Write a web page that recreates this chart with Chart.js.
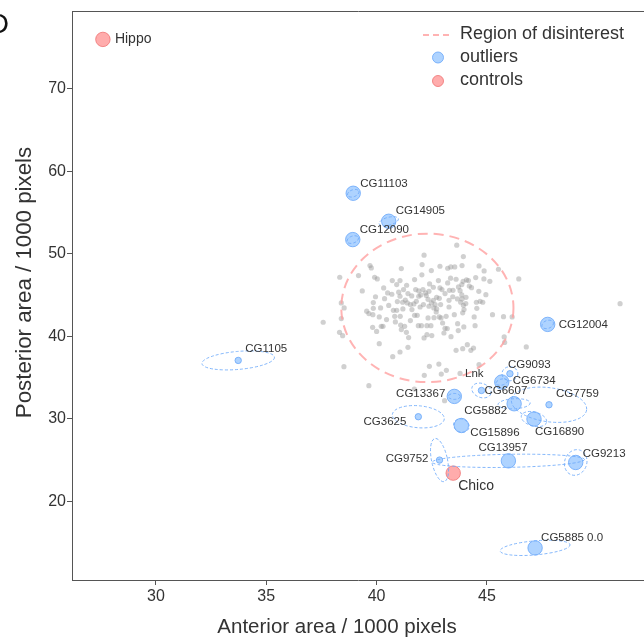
<!DOCTYPE html>
<html lang="en">
<head>
<meta charset="UTF-8">
<title>Anterior vs posterior area</title>
<script src="https://cdn.jsdelivr.net/npm/chart.js@4.4.1/dist/chart.umd.min.js"></script>
<style>
  body { margin: 0; background: #fff; overflow: hidden; }
  canvas { display: block; }
</style>
</head>
<body>
<!-- canvas is a bit wider than the window: the plot frame runs off the right edge, as in the figure -->
<canvas id="areaChart" width="653" height="637"></canvas>
<script>
// tick labels
const xTicks = [30, 35, 40, 45];
const yTicks = [20, 30, 40, 50, 60, 70];

// background genes (grey cloud)
const bgX = [43.63, 42.15, 43.93, 42.06, 42.87, 43.22, 43.36, 43.54, 43.87, 44.64,
  39.70, 39.76, 42.48, 41.12, 45.52, 38.33, 39.18, 39.91, 40.03, 40.71,
  41.06, 42.80, 43.22, 43.60, 43.92, 44.07, 44.49, 44.87, 45.13, 44.86,
  46.44, 39.35, 40.32, 40.50, 40.91, 41.22, 41.36, 41.72, 41.77, 41.91,
  42.10, 42.40, 42.57, 42.87, 42.96, 43.30, 43.46, 43.71, 43.78, 43.86,
  44.63, 40.36, 40.69, 41.06, 40.94, 41.42, 41.59, 41.91, 42.00, 42.22,
  42.33, 42.57, 42.72, 42.84, 43.10, 43.28, 43.66, 43.86, 43.87, 44.05,
  44.52, 44.69, 38.40, 38.53, 39.85, 39.85, 40.18, 40.76, 40.91, 41.19,
  41.18, 41.39, 41.53, 41.69, 41.80, 41.97, 42.12, 42.37, 42.48, 42.65,
  42.59, 42.72, 42.90, 43.28, 43.81, 43.93, 43.96, 44.04, 44.54, 44.81,
  37.58, 38.40, 39.65, 39.83, 40.12, 40.45, 40.82, 41.07, 41.53, 41.72,
  42.33, 42.60, 42.84, 43.15, 43.52, 44.42, 45.25, 45.75, 46.14, 38.32,
  38.46, 39.82, 40.21, 41.09, 41.12, 41.27, 41.35, 41.89, 42.28, 42.46,
  42.99, 43.10, 43.05, 43.37, 43.67, 43.95, 44.46, 40.12, 41.42, 41.06,
  40.73, 42.15, 42.28, 43.60, 43.90, 44.11, 44.27, 44.39, 45.78, 46.78,
  38.52, 39.65, 41.71, 42.16, 42.39, 43.16, 42.82, 42.93, 44.64, 43.08,
  45.80, 51.03, 41.84, 42.92, 40.29, 42.03, 43.20, 42.37, 44.16,
  40.55, 41.30, 42.25, 43.45, 44.30, 39.55, 40.85, 41.60, 42.70, 43.90,
  41.00, 42.05, 43.35, 44.20, 40.00, 41.45, 42.50, 43.70, 39.95, 44.95,
  43.78];
const bgY = [51.04, 49.83, 49.66, 48.70, 48.49, 48.25, 48.41, 48.41, 48.57, 48.53,
  48.57, 48.29, 47.97, 48.21, 48.13, 47.16, 47.36, 47.16, 46.96, 46.76,
  46.76, 46.76, 46.47, 46.92, 46.67, 46.84, 47.12, 47.93, 46.67, 46.96,
  46.96, 45.50, 45.87, 45.26, 46.27, 45.67, 46.19, 46.88, 45.67, 45.50,
  45.67, 46.35, 45.95, 45.87, 45.67, 45.58, 45.58, 45.99, 45.54, 46.27,
  45.46, 44.57, 45.10, 44.86, 44.21, 45.18, 44.90, 44.86, 45.02, 45.26,
  44.49, 44.37, 44.73, 44.61, 45.18, 44.37, 44.53, 45.02, 44.53, 44.73,
  44.13, 44.25, 44.05, 43.44, 44.09, 43.40, 43.44, 43.16, 43.16, 43.32,
  44.13, 44.05, 43.85, 43.93, 44.25, 43.56, 43.85, 43.65, 44.05, 43.85,
  43.44, 43.32, 43.85, 43.56, 44.13, 43.77, 43.24, 43.97, 43.40, 44.13,
  41.71, 42.15, 42.76, 42.63, 42.35, 42.03, 42.43, 42.43, 41.91, 42.55,
  42.23, 42.27, 42.35, 42.43, 42.63, 42.35, 42.63, 42.39, 42.35, 40.49,
  40.09, 41.10, 41.22, 41.38, 40.82, 41.22, 40.49, 41.30, 41.30, 41.30,
  41.62, 40.98, 40.41, 39.97, 41.54, 41.14, 41.30, 39.12, 38.67, 38.11,
  37.54, 39.81, 40.21, 38.31, 38.51, 39.00, 38.31, 38.59, 39.93, 38.72,
  36.33, 34.03, 33.62, 35.28, 36.37, 35.89, 36.65, 35.44, 36.57, 32.21,
  39.27, 43.96, 42.55, 42.23, 41.22, 41.30, 40.94, 45.46, 46.76,
  43.75, 44.40, 44.95, 44.80, 45.90, 43.05, 41.75, 43.25, 42.95, 42.85,
  45.35, 47.45, 47.05, 46.10, 40.60, 39.85, 40.10, 40.70, 44.80, 45.05,
  35.52];
// the last grey gene is Lnk
const bgNamed = { Lnk: bgX.length - 1 };

// outliers
const outlierNames = ['CG11103', 'CG14905', 'CG12090', 'CG12004', 'CG1105', 'CG9093',
  'CG6734', 'CG6607', 'CG13367', 'CG5882', 'CG7759', 'CG16890', 'CG15896',
  'CG3625', 'CG13957', 'CG9213', 'CG9752', 'CG5885 0.0'];
const outlierX = [38.94, 40.55, 38.92, 47.75, 33.73, 46.04, 45.67, 44.75, 43.52,
  46.23, 47.81, 47.13, 43.84, 41.89, 45.97, 49.02, 42.85, 47.18];
const outlierY = [57.33, 53.94, 51.72, 41.45, 37.09, 35.48, 34.47, 33.45, 32.73,
  31.84, 31.72, 29.99, 29.21, 30.27, 24.93, 24.73, 25.02, 14.39];
const outlierBig = [1, 1, 1, 1, 0, 0, 1, 0, 1, 1, 0, 1, 1, 0, 1, 1, 0, 1];
// spread of each outlier: semi axes in axis units, tilt in degrees
const spreadX = [0.27, 0.45, 0.27, 0.27, 1.65, 0.36, 0.27, 0.45, 0.27,
  0.73, 1.72, 0.59, 0.36, 1.18, 3.45, 0.50, 0.36, 1.59];
const spreadY = [0.42, 0.48, 0.42, 0.48, 1.09, 0.85, 0.36, 0.85, 0.36,
  0.61, 2.06, 0.85, 0.79, 1.33, 0.79, 1.58, 2.67, 0.85];
const spreadTilt = [-20, -15, -20, -20, -5, 0, -15, 20, 0,
  -3, 8, 15, 20, 5, -1, 20, -12, -5];

// controls
const controlNames = ['Hippo', 'Chico'];
const controlX = [27.6, 43.47];
const controlY = [75.96, 23.44];

// region of disinterest
const regionCenter = [42.3, 43.45];
const regionRadius = [3.9, 8.99];

// label placement: [dx, dy, align] in pixels from the marker
const labelOffsets = {
  'CG11103': [7, -9, 'left'], 'CG14905': [7, -10, 'left'], 'CG12090': [7, -10, 'left'],
  'CG12004': [11, 0, 'left'], 'CG1105': [7, -12, 'left'], 'CG9093': [-2, -9, 'left'],
  'CG6734': [11, -1, 'left'], 'CG6607': [3, 0, 'left'], 'CG13367': [-9, -3, 'right'],
  'CG5882': [-7, 7, 'right'], 'CG7759': [7, -11, 'left'], 'CG16890': [1, 13, 'left'],
  'CG15896': [9, 7, 'left'], 'CG3625': [-12, 5, 'right'], 'CG13957': [-30, -13, 'left'],
  'CG9213': [7, -9, 'left'], 'CG9752': [-11, -1, 'right'], 'CG5885 0.0': [6, -10, 'left'],
  'Hippo': [12, 0, 'left'], 'Chico': [5, 13, 'left'], 'Lnk': [5, 0, 'left']
};

const FONT = '"Liberation Sans", Arial, sans-serif';
const TXT = '#333';
const BLUE_FILL = 'rgba(140,192,255,0.7)';
const BLUE_EDGE = 'rgba(110,170,250,0.85)';
const RED_FILL = 'rgba(255,140,140,0.72)';
const RED_EDGE = 'rgba(240,120,120,0.85)';
const PINK = 'rgba(255,160,160,0.8)';

function ellipsePath(ctx, xs, ys, cx, cy, rx, ry, deg) {
  const px = xs.getPixelForValue(cx), py = ys.getPixelForValue(cy);
  const rxp = Math.abs(xs.getPixelForValue(cx + rx) - px);
  const ryp = Math.abs(ys.getPixelForValue(cy + ry) - py);
  ctx.beginPath();
  ctx.ellipse(px, py, rxp, ryp, deg * Math.PI / 180, 0, 2 * Math.PI);
}

const overlay = {
  id: 'overlay',
  afterDatasetsDraw(chart) {
    const { ctx, chartArea: a, scales: { x, y } } = chart;
    ctx.save();
    ctx.beginPath();
    ctx.rect(a.left, a.top, a.right - a.left, a.bottom - a.top);
    ctx.clip();
    // region of disinterest
    ellipsePath(ctx, x, y, regionCenter[0], regionCenter[1], regionRadius[0], regionRadius[1], 0);
    ctx.strokeStyle = PINK;
    ctx.lineWidth = 2;
    ctx.setLineDash([10, 6]);
    ctx.stroke();
    // outlier spreads
    ctx.strokeStyle = BLUE_EDGE;
    ctx.lineWidth = 1;
    ctx.setLineDash([3, 2]);
    for (let i = 0; i < outlierX.length; i++) {
      ellipsePath(ctx, x, y, outlierX[i], outlierY[i], spreadX[i], spreadY[i], spreadTilt[i]);
      ctx.stroke();
    }
    ctx.restore();
  },
  afterDraw(chart) {
    const { ctx, chartArea: a, scales: { x, y } } = chart;
    ctx.save();
    // top frame line
    ctx.strokeStyle = '#555';
    ctx.lineWidth = 1;
    ctx.beginPath();
    ctx.moveTo(a.left, a.top + 0.5);
    ctx.lineTo(a.right, a.top + 0.5);
    ctx.stroke();

    // point labels
    ctx.fillStyle = TXT;
    ctx.textBaseline = 'middle';
    const put = (name, vx, vy, size) => {
      const o = labelOffsets[name];
      ctx.font = size + 'px ' + FONT;
      ctx.textAlign = o[2];
      ctx.fillText(name, x.getPixelForValue(vx) + o[0], y.getPixelForValue(vy) + o[1]);
    };
    outlierNames.forEach((n, i) => put(n, outlierX[i], outlierY[i], 11.5));
    controlNames.forEach((n, i) => put(n, controlX[i], controlY[i], 14));
    Object.keys(bgNamed).forEach(n => put(n, bgX[bgNamed[n]], bgY[bgNamed[n]], 11.5));

    // legend
    const lx = a.left + 351, ly = a.top + 24;
    ctx.strokeStyle = PINK;
    ctx.lineWidth = 2;
    ctx.setLineDash([6, 4]);
    ctx.beginPath();
    ctx.moveTo(lx, ly);
    ctx.lineTo(lx + 27, ly);
    ctx.stroke();
    ctx.setLineDash([]);
    ctx.lineWidth = 1;
    [[BLUE_FILL, BLUE_EDGE, 22.5], [RED_FILL, RED_EDGE, 46]].forEach(([f, e, dy]) => {
      ctx.beginPath();
      ctx.arc(lx + 15, ly + dy, 5.5, 0, 2 * Math.PI);
      ctx.fillStyle = f;
      ctx.fill();
      ctx.strokeStyle = e;
      ctx.stroke();
    });
    ctx.fillStyle = TXT;
    ctx.font = '18px ' + FONT;
    ctx.textAlign = 'left';
    ctx.fillText('Region of disinterest', lx + 37, ly - 1);
    ctx.fillText('outliers', lx + 37, ly + 22);
    ctx.fillText('controls', lx + 37, ly + 45);

    // axis titles
    ctx.font = '20.5px ' + FONT;
    ctx.textBaseline = 'alphabetic';
    ctx.textAlign = 'center';
    ctx.fillText('Anterior area / 1000 pixels', 337, 632.5);
    ctx.font = '22.3px ' + FONT;
    ctx.translate(31, 282.5);
    ctx.rotate(-Math.PI / 2);
    ctx.fillText('Posterior area / 1000 pixels', 0, 0);
    ctx.setTransform(1, 0, 0, 1, 0, 0);

    // panel letter
    ctx.font = '28px ' + FONT;
    ctx.textAlign = 'right';
    ctx.fillStyle = '#111';
    ctx.fillText('D', 9, 33);
    ctx.restore();
  }
};

const axisStyle = {
  border: { display: true, color: '#555', width: 1 },
  grid: { display: true, drawOnChartArea: false, drawTicks: true, tickLength: 5, color: '#555' },
};

new Chart(document.getElementById('areaChart').getContext('2d'), {
  type: 'scatter',
  data: {
    datasets: [
      {
        label: 'genes',
        data: bgX.map((v, i) => ({ x: v, y: bgY[i] })),
        pointRadius: 2.6,
        pointBackgroundColor: 'rgba(150,150,150,0.45)',
        pointBorderWidth: 0
      },
      {
        label: 'outliers',
        data: outlierX.map((v, i) => ({ x: v, y: outlierY[i] })),
        pointRadius: outlierBig.map(b => b ? 7.2 : 3.2),
        pointBackgroundColor: BLUE_FILL,
        pointBorderColor: BLUE_EDGE,
        pointBorderWidth: 1
      },
      {
        label: 'controls',
        data: controlX.map((v, i) => ({ x: v, y: controlY[i] })),
        pointRadius: 7.2,
        pointBackgroundColor: RED_FILL,
        pointBorderColor: RED_EDGE,
        pointBorderWidth: 1
      }
    ]
  },
  options: {
    responsive: false,
    animation: false,
    layout: { padding: { top: 11, right: 0, left: 0, bottom: 0 } },
    plugins: { legend: { display: false }, tooltip: { enabled: false } },
    scales: {
      x: {
        ...axisStyle,
        min: 26.2,
        max: 52.15,
        afterBuildTicks: s => { s.ticks = xTicks.map(v => ({ value: v })); },
        afterFit: s => { s.height = 57; },
        ticks: { color: TXT, padding: 2, font: { family: FONT, size: 16 } }
      },
      y: {
        ...axisStyle,
        min: 10.5,
        max: 79.4,
        afterBuildTicks: s => { s.ticks = yTicks.map(v => ({ value: v })); },
        afterFit: s => { s.width = 72; },
        ticks: { color: TXT, padding: 1, font: { family: FONT, size: 16 } }
      }
    }
  },
  plugins: [overlay]
});
</script>
</body>
</html>
